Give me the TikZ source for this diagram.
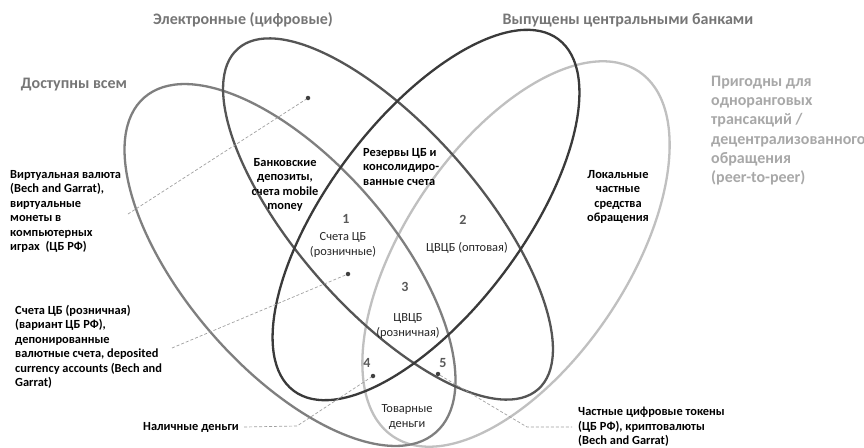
\documentclass[tikz,border=0pt]{standalone}
\usepackage{fontspec}
\setmainfont{Carlito}
\definecolor{colA}{HTML}{7F7F7F}
\definecolor{colB}{HTML}{555555}
\definecolor{colC}{HTML}{3A3A3A}
\definecolor{colD}{HTML}{C0C0C0}
\definecolor{headgray}{HTML}{767676}
\definecolor{peergray}{HTML}{A8A8A8}
\definecolor{numgray}{HTML}{595959}
\definecolor{txt}{HTML}{262626}
\definecolor{leadgray}{HTML}{A0A0A0}
\definecolor{dotgray}{HTML}{404040}
\begin{document}
\begin{tikzpicture}[x=1pt,y=-1pt,
  ell/.style={line width=2.3pt},
  hd/.style={font=\bfseries\fontsize{16}{19.2}\selectfont, text=headgray, inner sep=0},
  lbl/.style={font=\bfseries\fontsize{12.4}{14.5}\selectfont, text=black, inner sep=0},
  reg/.style={font=\fontsize{12.4}{15}\selectfont, text=txt, inner sep=0, align=center},
  num/.style={font=\bfseries\fontsize{14}{16}\selectfont, text=numgray, inner sep=0},
  leader/.style={dash pattern=on 3pt off 2pt, line width=0.7pt, draw=leadgray},
  dotn/.style={circle, fill=dotgray, inner sep=0, minimum size=4.5pt}
]
\useasboundingbox (0,0) rectangle (864,447);
\fill[white] (0,0) rectangle (864,447);

% ellipses
\draw[ell, draw=colD, rotate around={56:(516,254)}] (516,254) ellipse [x radius=220pt, y radius=111pt];
\draw[ell, draw=colA, rotate around={-49:(290,265)}] (290,265) ellipse [x radius=222pt, y radius=104pt];
\draw[ell, draw=colB, rotate around={-48.6:(388,219)}] (388,219) ellipse [x radius=227pt, y radius=91pt];
\draw[ell, draw=colC, rotate around={53:(426,215)}] (426,215) ellipse [x radius=220pt, y radius=97pt];

% headings
\node[hd] (hE) at (243,20) {Электронные (цифровые)};
\node[hd] (hC) at (628,20) {Выпущены центральными банками};
\node[hd] (hA) at (74,85) {Доступны всем};
\node[hd, text=peergray, anchor=north west, align=left] (hD) at (711,76)
  {Пригодны для\\одноранговых\\трансакций /\\децентрализованного\\обращения\\(peer-to-peer)};

% region labels
\node[lbl, align=center] (bank) at (285,185) {Банковские\\депозиты,\\счета mobile\\money};
\node[lbl, align=left, anchor=north west] (res) at (363,148) {Резервы ЦБ и\\консолидиро-\\ванные счета};
\node[lbl, align=center] (loc) at (618,197) {Локальные\\частные\\средства\\обращения};
\node[num] (n1) at (346,219) {1};
\node[num] (n2) at (463,220) {2};
\node[num] (n3) at (405,287) {3};
\node[num] (n4) at (367,363) {4};
\node[num] (n5) at (443,363) {5};
\node[reg] (r1) at (343,245) {Счета ЦБ\\(розничные)};
\node[reg] (r2) at (467,248) {ЦВЦБ (оптовая)};
\node[reg] (r3) at (408,326) {ЦВЦБ\\(розничная)};
\node[reg] (r4) at (407,417) {Товарные\\деньги};

% outside labels
\node[lbl, align=left, anchor=north west] (virt) at (10,170)
  {Виртуальная валюта\\(Bech and Garrat),\\виртуальные\\монеты в\\компьютерных\\играх~~(ЦБ РФ)};
\node[lbl, align=left, anchor=north west] (acc) at (15,305)
  {Счета ЦБ (розничная)\\(вариант ЦБ РФ),\\депонированные\\валютные счета, deposited\\currency accounts (Bech and\\Garrat)};
\node[lbl, anchor=west] (cash) at (143,427) {Наличные деньги};
\node[lbl, align=left, anchor=north west] (tok) at (578,407)
  {Частные цифровые токены\\(ЦБ РФ), криптовалюты\\(Bech and Garrat)};

% dots
\node[dotn] (dV) at (308,98) {};
\node[dotn] (dA) at (348,274) {};
\node[dotn] (d4) at (373,376) {};
\node[dotn] (d5) at (438,374) {};

% leaders
\coordinate (sV) at (128,214);
\coordinate (sA) at (172,348);
\coordinate (k4) at (297,426);
\coordinate (k5) at (527,427);
\coordinate (e5) at (572,427);
\draw[leader] (sV) -- (dV);
\draw[leader] (sA) -- (dA);
\draw[leader] ([xshift=5pt]cash.east) -- (k4) -- (d4);
\draw[leader] (d5) -- (k5) -- (e5);
\end{tikzpicture}
\end{document}
